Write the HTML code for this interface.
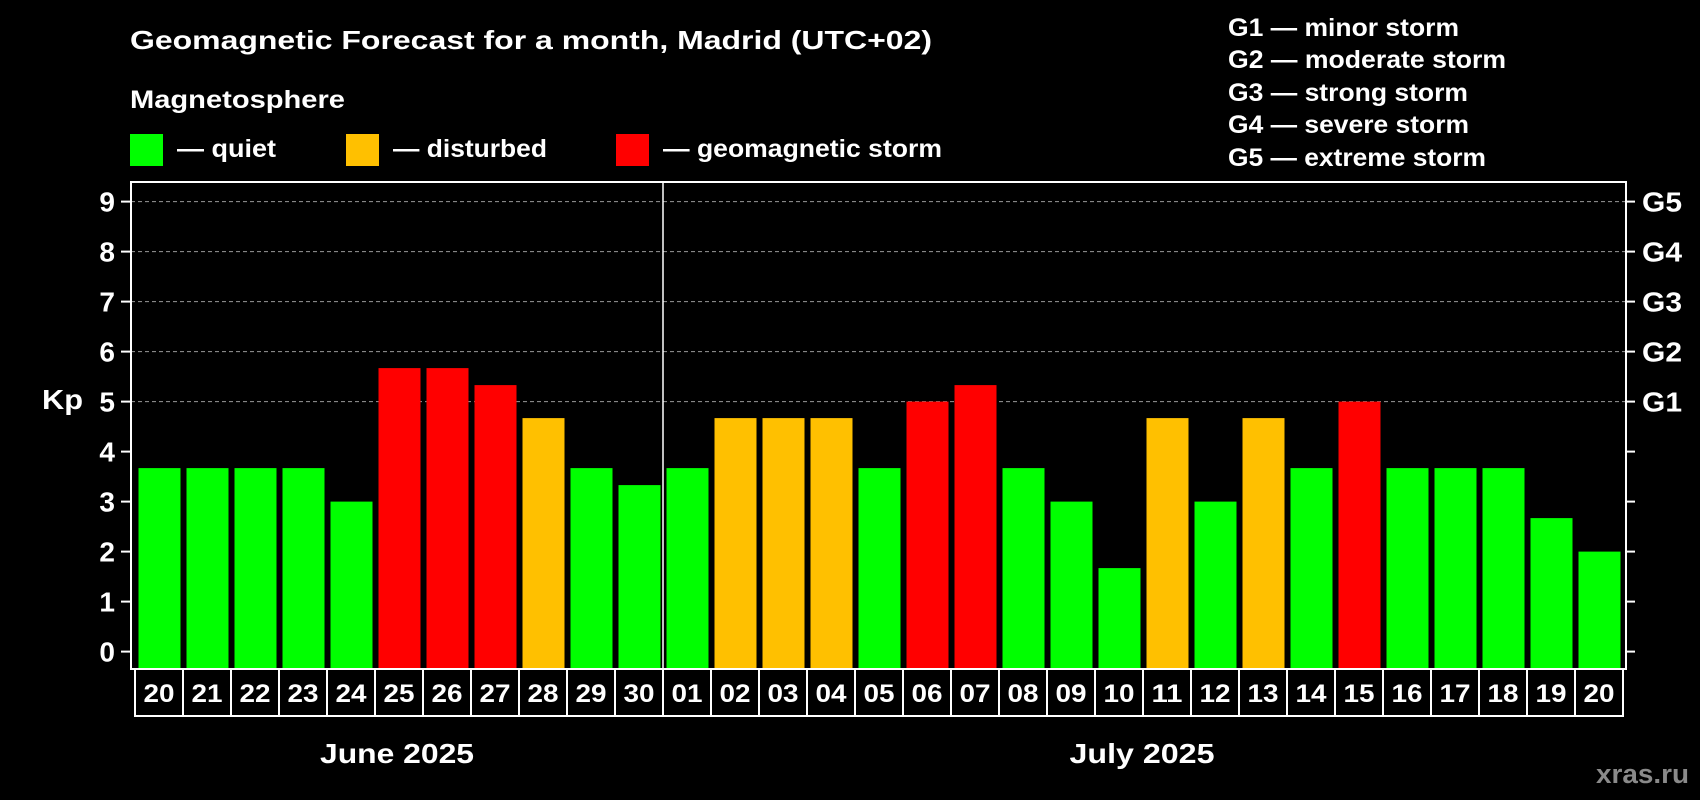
<!DOCTYPE html>
<html><head><meta charset="utf-8"><style>
html,body{margin:0;padding:0;background:#000;}
svg{display:block;font-family:"Liberation Sans",Arial,sans-serif;font-weight:bold;}
</style></head><body>
<svg id="c" width="1700" height="800" viewBox="0 0 1700 800">
<rect width="1700" height="800" fill="#000"/>
<text x="130" y="49" fill="#fff" font-size="26" textLength="802" lengthAdjust="spacingAndGlyphs">Geomagnetic Forecast for a month, Madrid (UTC+02)</text>
<text x="130" y="108" fill="#fff" font-size="25" textLength="215" lengthAdjust="spacingAndGlyphs">Magnetosphere</text>
<g><rect x="130" y="134" width="33" height="32" fill="#00ff00"/><text x="177" y="157" fill="#fff" font-size="25" textLength="99" lengthAdjust="spacingAndGlyphs">— quiet</text></g>
<g><rect x="346" y="134" width="33" height="32" fill="#ffc000"/><text x="393" y="157" fill="#fff" font-size="25" textLength="154" lengthAdjust="spacingAndGlyphs">— disturbed</text></g>
<g><rect x="616" y="134" width="33" height="32" fill="#ff0000"/><text x="663" y="157" fill="#fff" font-size="25" textLength="279" lengthAdjust="spacingAndGlyphs">— geomagnetic storm</text></g>
<g fill="#fff" font-size="25">
<text x="1228" y="36" textLength="231" lengthAdjust="spacingAndGlyphs">G1 — minor storm</text>
<text x="1228" y="68" textLength="278" lengthAdjust="spacingAndGlyphs">G2 — moderate storm</text>
<text x="1228" y="101" textLength="240" lengthAdjust="spacingAndGlyphs">G3 — strong storm</text>
<text x="1228" y="133" textLength="241" lengthAdjust="spacingAndGlyphs">G4 — severe storm</text>
<text x="1228" y="166" textLength="258" lengthAdjust="spacingAndGlyphs">G5 — extreme storm</text>
</g>
<g id="grid"></g>
<g id="bars"></g>
<g id="axes"></g>
<text x="42" y="409" fill="#fff" font-size="28" textLength="41" lengthAdjust="spacingAndGlyphs">Kp</text>
<text x="397" y="763" fill="#fff" font-size="28" text-anchor="middle" textLength="154" lengthAdjust="spacingAndGlyphs">June 2025</text>
<text x="1142" y="763" fill="#fff" font-size="28" text-anchor="middle" textLength="145" lengthAdjust="spacingAndGlyphs">July 2025</text>
<text x="1689" y="783" fill="#8a8a8a" font-size="27" text-anchor="end" textLength="93" lengthAdjust="spacingAndGlyphs">xras.ru</text>
</svg>
<script>
const days = ["20","21","22","23","24","25","26","27","28","29","30","01","02","03","04","05","06","07","08","09","10","11","12","13","14","15","16","17","18","19","20"];
const kpValues = [3.67,3.67,3.67,3.67,3,5.67,5.67,5.33,4.67,3.67,3.33,3.67,4.67,4.67,4.67,3.67,5,5.33,3.67,3,1.67,4.67,3,4.67,3.67,5,3.67,3.67,3.67,2.67,2];
const yTicks = [0,1,2,3,4,5,6,7,8,9];
const gLabels = ["G1","G2","G3","G4","G5"];
const NS="http://www.w3.org/2000/svg";
const L=131,R=1626,T=182,B=669,X0=135,P=48,BW=42;
function y(v){return 651.6-v*50;}
function x(i){return X0+i*P;}
function mk(tag,attrs,parent,txt){const e=document.createElementNS(NS,tag);for(const k in attrs)e.setAttribute(k,attrs[k]);if(txt!==undefined)e.textContent=txt;parent.appendChild(e);return e;}
function color(v){return v>=5?"#ff0000":(v>=4?"#ffc000":"#00ff00");}
const grid=document.getElementById("grid"),bars=document.getElementById("bars"),axes=document.getElementById("axes");
yTicks.forEach(t=>{
  if(t>=5){const g=mk("line",{x1:L,x2:R,y1:y(t),y2:y(t),stroke:"#999","stroke-width":1,"stroke-dasharray":"4,3"},grid);
  
  }
  const lt=mk("line",{x1:L-10,x2:L,y1:y(t),y2:y(t),stroke:"#fff","stroke-width":2},axes);
  
  
  const rt=mk("line",{x1:R,x2:R+9,y1:y(t),y2:y(t),stroke:"#fff","stroke-width":2},axes);
  
  
  const tl=mk("text",{x:L-16,y:y(t)+10,fill:"#fff","font-size":28,"text-anchor":"end"},axes,String(t));
  
  
  if(t>=5){const gl=mk("text",{x:R+16,y:y(t)+10,fill:"#fff","font-size":28,textLength:40,lengthAdjust:"spacingAndGlyphs"},axes,gLabels[t-5]);
  
  }
});
kpValues.forEach((v,i)=>{
  const r=mk("rect",{x:x(i)+3.5,y:y(v),width:BW,height:B-y(v),fill:color(v)},bars);
  
  
  const c=mk("rect",{x:x(i),y:B,width:P,height:47,fill:"none",stroke:"#fff","stroke-width":2},axes);
  
  
  const d=mk("text",{x:x(i)+P/2,y:B+33,fill:"#fff","font-size":25,"text-anchor":"middle",textLength:31,lengthAdjust:"spacingAndGlyphs"},axes,days[i]);
  
  
});
const fr=mk("rect",{x:L,y:T,width:R-L,height:B-T,fill:"none",stroke:"#fff","stroke-width":2},axes);


const dv=mk("line",{x1:x(11),x2:x(11),y1:T,y2:B,stroke:"#fff","stroke-width":1.5},axes);


</script>
</body></html>
